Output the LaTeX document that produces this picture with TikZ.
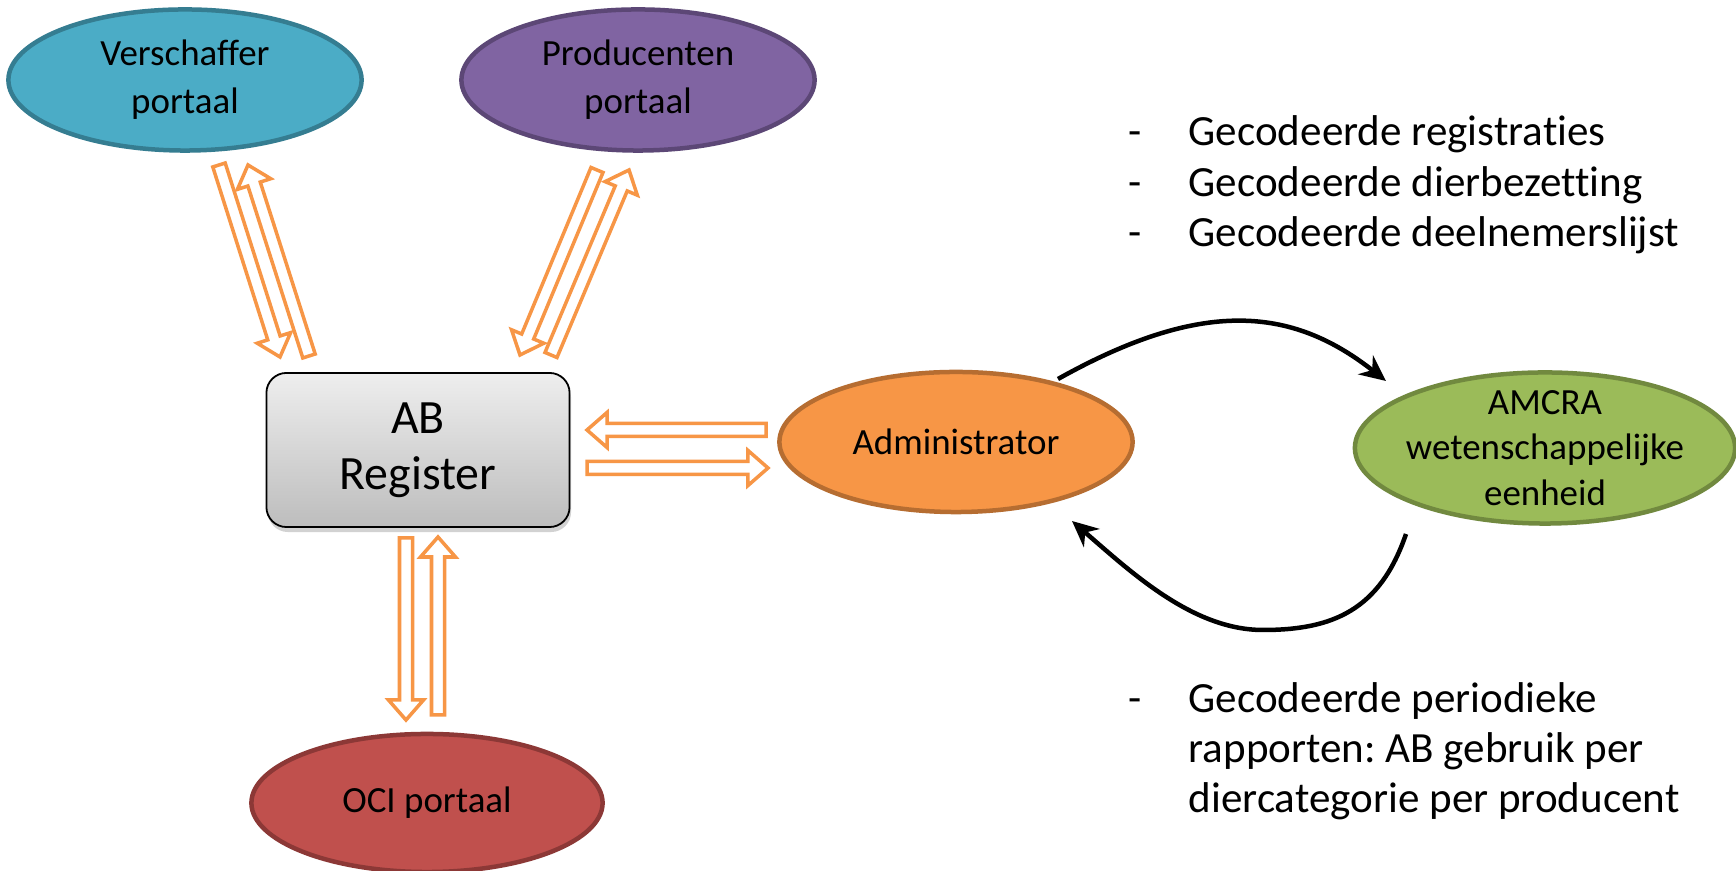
\documentclass[tikz,border=0pt]{standalone}
\usepackage{fontspec}
\setmainfont{Carlito}[Ligatures={NoCommon}]
\usetikzlibrary{shapes.geometric,calc,arrows.meta,shadows}
\frenchspacing

\definecolor{verfill}{HTML}{4BACC6}
\definecolor{verline}{HTML}{357D91}
\definecolor{profill}{HTML}{8064A2}
\definecolor{proline}{HTML}{5C4776}
\definecolor{admfill}{HTML}{F79646}
\definecolor{admline}{HTML}{B66D31}
\definecolor{amcfill}{HTML}{9BBB59}
\definecolor{amcline}{HTML}{71893F}
\definecolor{ocifill}{HTML}{C0504D}
\definecolor{ociline}{HTML}{8C3836}
\definecolor{abtop}{HTML}{EEEEEE}
\definecolor{abbot}{HTML}{BDBDBD}
\definecolor{arrorange}{HTML}{F79646}

\def\baHL{0.2cm}
\def\baHW{0.065cm}
\def\baHH{0.175cm}
\newcommand{\blockarrow}[2]{%
  \coordinate (banck) at ($(#2)!\baHL!(#1)$);
  \draw[hollowarrow] ($(#1)!\baHW!90:(#2)$) -- ($(banck)!\baHW!90:(#2)$)
    -- ($(banck)!\baHH!90:(#2)$) -- (#2) -- ($(banck)!\baHH!-90:(#2)$)
    -- ($(banck)!\baHW!-90:(#2)$) -- ($(#1)!\baHW!-90:(#2)$) -- cycle;}

\begin{document}
\begin{tikzpicture}[x=0.01cm,y=-0.01cm,
  ell/.style={ellipse, draw, line width=0.045cm, inner sep=0pt,
    minimum width=3.53cm, minimum height=1.41cm, align=center,
    font=\fontsize{10.5}{13.6}\selectfont},
  hollowarrow/.style={draw=arrorange, fill=white, line width=0.035cm, line join=miter},
  curvearrow/.style={line width=0.045cm, -{Stealth[length=0.26cm,width=0.24cm]}},
  listtext/.style={inner sep=0pt, anchor=base west}
]
\fill[white] (0,0) rectangle (1736,871);
\useasboundingbox (0,0) rectangle (1736,871);

% nodes
\node[ell, fill=verfill, draw=verline] (ver) at (185,80) {Verschaffer\\portaal};
\node[ell, fill=profill, draw=proline] (pro) at (638,80) {Producenten\\portaal};
\node[ell, fill=admfill, draw=admline, minimum width=3.53cm, minimum height=1.40cm] (adm) at (956,442) {Administrator};
\node[ell, fill=amcfill, draw=amcline, minimum width=3.80cm, minimum height=1.51cm,
  label={[align=center, inner sep=0pt, font=\fontsize{10.5}{12.9}\selectfont]center:AMCRA\\wetenschappelijke\\eenheid}] (amcra) at (1545,448) {};
\node[ell, fill=ocifill, draw=ociline, minimum width=3.51cm, minimum height=1.38cm] (oci) at (427,803) {OCI portaal};
\node[draw=black, line width=0.018cm, rounded corners=0.2cm, top color=abtop, bottom color=abbot,
  minimum width=3.03cm, minimum height=1.54cm, inner sep=0pt, align=center,
  font=\fontsize{13.6}{16}\selectfont,
  drop shadow={opacity=0.35, shadow xshift=0.015cm, shadow yshift=-0.05cm}] (ab) at (418,450) {\raisebox{-0.06cm}{AB}\\\raisebox{-0.06cm}{Register}};

% block arrow end points
\coordinate (v1t) at (219,165);
\coordinate (v1h) at (280,357);
\coordinate (v2t) at (309,356);
\coordinate (v2h) at (248,165);
\coordinate (p1t) at (597,170);
\coordinate (p1h) at (520,355);
\coordinate (p2t) at (551,355);
\coordinate (p2h) at (629,170);
\coordinate (h1t) at (766,430);
\coordinate (h1h) at (587,430);
\coordinate (h2t) at (587,468);
\coordinate (h2h) at (768,468);
\coordinate (o1t) at (406,538);
\coordinate (o1h) at (406,720);
\coordinate (o2t) at (438,715);
\coordinate (o2h) at (438,537);

\blockarrow{v1t}{v1h}
\blockarrow{v2t}{v2h}
\blockarrow{p1t}{p1h}
\blockarrow{p2t}{p2h}
\blockarrow{h1t}{h1h}
\blockarrow{h2t}{h2h}
\blockarrow{o1t}{o1h}
\blockarrow{o2t}{o2h}

% black curved arrows
\coordinate (c1s) at (1058,379);
\coordinate (c1e) at (1386,381);
\coordinate (c2s) at (1406,534);
\coordinate (c2m) at (1263,630);
\coordinate (c2e) at (1072,521);
\draw[curvearrow] (c1s) .. controls (1201,299) and (1291,306) .. (c1e);
\draw[curvearrow] (c2s) .. controls (1380,610) and (1333,630) .. (c2m)
  .. controls (1193,630) and (1132,573) .. (c2e);

% text lists
\node[listtext, font=\fontsize{12.25}{14.3}\selectfont] (toplist) at (1128,146)
  {\begin{tabular}[t]{@{}p{0.6cm}@{}l@{}}-&Gecodeerde registraties\\-&Gecodeerde dierbezetting\\-&Gecodeerde deelnemerslijst\end{tabular}};
\node[listtext, font=\fontsize{12.25}{14.1}\selectfont] (botlist) at (1128,713)
  {\begin{tabular}[t]{@{}p{0.6cm}@{}l@{}}-&Gecodeerde periodieke\\&rapporten: AB gebruik per\\&diercategorie per producent\end{tabular}};
\end{tikzpicture}
\end{document}
